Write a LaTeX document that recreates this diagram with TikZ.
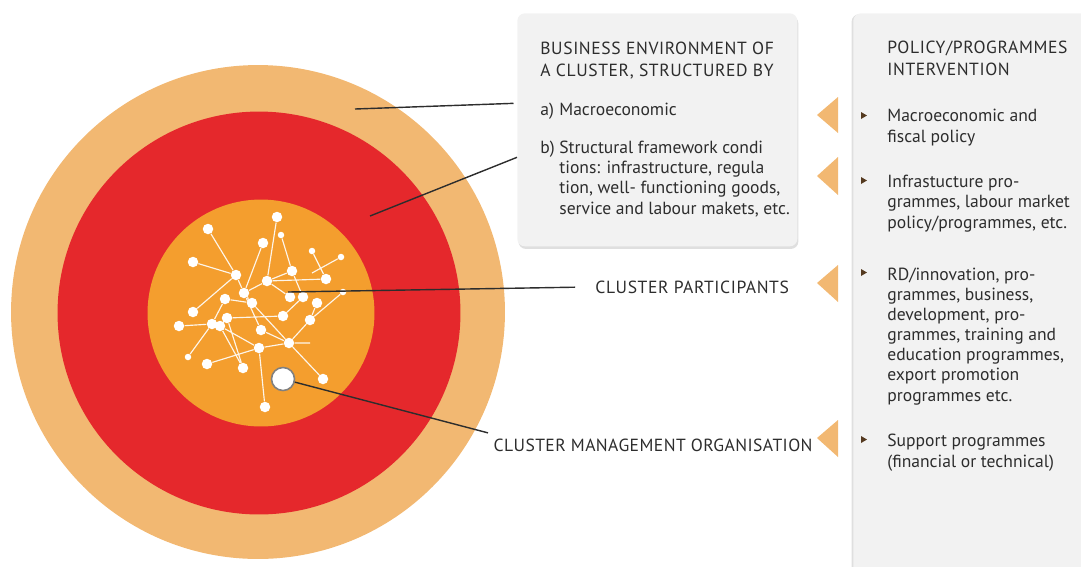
\documentclass[tikz,border=0pt]{standalone}
\usepackage{fontspec}
\setmainfont{PT Sans}
\newfontfamily\capsfont{PT Sans}[LetterSpace=3.5]
\newfontfamily\capsnarrow{PT Sans}[LetterSpace=2.5]
\usetikzlibrary{backgrounds,positioning,shadows}

\definecolor{ringout}{RGB}{242,184,114}
\definecolor{ringmid}{RGB}{229,40,44}
\definecolor{ringin}{RGB}{244,158,46}
\definecolor{panelgray}{RGB}{242,242,242}
\definecolor{ink}{RGB}{45,45,45}
\definecolor{bulletc}{RGB}{85,58,32}

\begin{document}
\begin{tikzpicture}[x=0.02cm,y=-0.02cm,font=\fontsize{10}{11.4}\selectfont,text=ink]
    % `ring' is used for the three discs, `dot' and `sdot' for the participants.
    % `panel' is used for the two grey boxes, `leader' for the label lines.
    \tikzstyle{ring} = [circle,inner sep=0pt]
    \tikzstyle{dot} = [circle,fill=white,inner sep=0pt,minimum size=0.21cm]
    \tikzstyle{sdot} = [dot,minimum size=0.13cm]
    \tikzstyle{panel} = [fill=panelgray,rounded corners=1.5mm,anchor=north west,inner sep=0pt,
      drop shadow={opacity=0.25,shadow xshift=0.6pt,shadow yshift=-1.5pt}]
    \tikzstyle{leader} = [draw=ink,line width=0.8pt]
    \tikzstyle{txt} = [anchor=base west,inner sep=0pt,align=left]
    \tikzstyle{caps} = [txt,font=\capsfont]
    \tikzstyle{tip} = [fill=ringout]
    \tikzstyle{bullet} = [fill=bulletc]
    \useasboundingbox (0,0) rectangle (1081,566);
    %
    % participants
    \node[dot] (n1) at (208,229) {};
    \node[dot] (n2) at (193,262) {};
    \node[dot] (n3) at (236,275) {};
    \node[dot] (n4) at (244,293) {};
    \node[dot] (n5) at (277,217) {};
    \node[dot] (n6) at (263,243) {};
    \node[sdot] (n7) at (281,235) {};
    \node[dot] (n8) at (267,281) {};
    \node[dot] (n9) at (292,271) {};
    \node[sdot] (n10) at (312,251) {};
    \node[sdot] (n11) at (341,257) {};
    \node[dot] (n12) at (326,279) {};
    \node[dot] (n13) at (290,297) {};
    \node[dot] (n14) at (303,297) {};
    \node[sdot] (n15) at (343,292) {};
    \node[dot] (n16) at (317,303) {};
    \node[dot] (n17) at (225,299) {};
    \node[dot] (n18) at (252,303) {};
    \node[dot] (n19) at (193,312) {};
    \node[dot] (n20) at (283,316) {};
    \node[dot] (n21) at (227,318) {};
    \node[dot] (n22) at (212,324) {};
    \node[dot] (n23) at (220,326) {};
    \node[dot] (n24) at (179,326) {};
    \node[dot] (n25) at (310,320) {};
    \node[dot] (n26) at (261,330) {};
    \node[dot] (n27) at (289,343) {};
    \node[dot] (n28) at (259,348) {};
    \node[sdot] (n29) at (188,357) {};
    \node[dot] (n30) at (207,364) {};
    \node[dot] (n31) at (243,368) {};
    \node[dot] (n32) at (323,379) {};
    \node[dot] (n33) at (265,407) {};
    \coordinate (k0) at (312,273);
    \coordinate (aa0) at (310,343);
    \node[circle,fill=white,draw=gray,line width=0.9pt,minimum size=0.46cm] (cmo) at (283,379) {};
    %
    % grey boxes
    \node[panel,minimum width=5.6cm,minimum height=4.66cm] (envbox) at (517,13) {};
    \node[panel,minimum width=5.2cm,minimum height=11.6cm,
      drop shadow={opacity=0.25,shadow xshift=-1pt,shadow yshift=-0.5pt}] (polbox) at (853,13) {};
    %
    \node[caps] (envtitle) at (540,76) {BUSINESS ENVIRONMENT OF\\A CLUSTER, STRUCTURED BY};
    \node[txt] (enva) at (540,115) {\makebox[0.38cm][l]{a)}Macroeconomic};
    \node[txt] (envb) at (540,214) {\makebox[0.38cm][l]{b)}Structural framework condi\\
      \hspace*{0.38cm}tions: infrastructure, regula\\
      \hspace*{0.38cm}tion, well- functioning goods,\\
      \hspace*{0.38cm}service and labour makets, etc.};
    %
    \node[caps] (poltitle) at (887,75) {POLICY/PROGRAMMES\\INTERVENTION};
    \node[txt] (pol1) at (887,142) {Macroeconomic and\\fiscal policy};
    \node[txt] (pol2) at (887,228) {Infrastucture pro-\\grammes, labour market\\policy/programmes, etc.};
    \node[txt] (pol3) at (887,401) {RD/innovation, pro-\\grammes, business,\\development, pro-\\grammes, training and\\education programmes,\\export promotion\\programmes etc.};
    \node[txt] (pol4) at (887,467) {Support programmes\\(financial or technical)};
    %
    \node[caps] (cp) at (595,293) {CLUSTER PARTICIPANTS};
    \node[anchor=base west,inner sep=3pt,font=\capsnarrow] (cmol) at (488,451) {CLUSTER MANAGEMENT ORGANISATION};
    %
    % orange arrow heads and bullets
    \fill[tip] (838,97) -- (817,115) -- (838,133) -- cycle;
    \fill[tip] (838,157) -- (817,176) -- (838,195) -- cycle;
    \fill[tip] (838,265) -- (817,283) -- (838,302) -- cycle;
    \fill[tip] (838,420) -- (817,438) -- (838,457) -- cycle;
    \fill[bullet] (861,112) -- (867,115.5) -- (861,119) -- cycle;
    \fill[bullet] (861,177) -- (867,180.5) -- (861,184) -- cycle;
    \fill[bullet] (861,269) -- (867,272.5) -- (861,276) -- cycle;
    \fill[bullet] (861,436) -- (867,439.5) -- (861,443) -- cycle;
    %
    % leader lines
    \coordinate (l1) at (355,109);
    \coordinate (l2) at (370,216);
    \coordinate (l3) at (288,292);
    \draw[leader] (l1) -- ([xshift=-2pt,yshift=0.53cm]envbox.west);
    \draw[leader] (l2) -- ([yshift=-0.55cm]envbox.west);
    \draw[leader,shorten >=0.4cm] (l3) -- (cp.west);
    \draw[leader] (cmo) -- (cmol.north west);
    %
    \begin{pgfonlayer}{background}
        % Draw the three discs.
        \node[ring,fill=ringout,minimum size=9.88cm] (outer) at (258,312) {};
        \node[ring,fill=ringmid,minimum size=8.06cm] (mid) at (259,313) {};
        \node[ring,fill=ringin,minimum size=4.54cm] (inner) at (261,313) {};
        % Draw links between participants.
        \draw[white,line width=0.65pt,opacity=0.9]
          (n1) -- (n3)  (n2) -- (n3)  (n3) -- (n4)  (n19) -- (n3)  (n4) -- (n6)
          (n5) -- (n8)  (n7) -- (n9)  (n8) -- (n9)  (n8) -- (n12) (n9) -- (n14)
          (n10) -- (n12) (n11) -- (k0) (n4) -- (n8) (n8) -- (n13) (n17) -- (n18)
          (n4) -- (n18) (n17) -- (n22) (n22) -- (n24) (n22) -- (n23) (n21) -- (n20)
          (n21) -- (n23) (n21) -- (n31) (n23) -- (n28) (n23) -- (n31) (n22) -- (n29)
          (n30) -- (n28) (n28) -- (n27) (n27) -- (aa0) (n28) -- (n33) (n18) -- (n27)
          (n26) -- (n27) (n27) -- (n32) (n27) -- (n25) (n25) -- (n16) (n25) -- (n15)
          (n14) -- (n20) (n4) -- (n26);
    \end{pgfonlayer}
\end{tikzpicture}
\end{document}
